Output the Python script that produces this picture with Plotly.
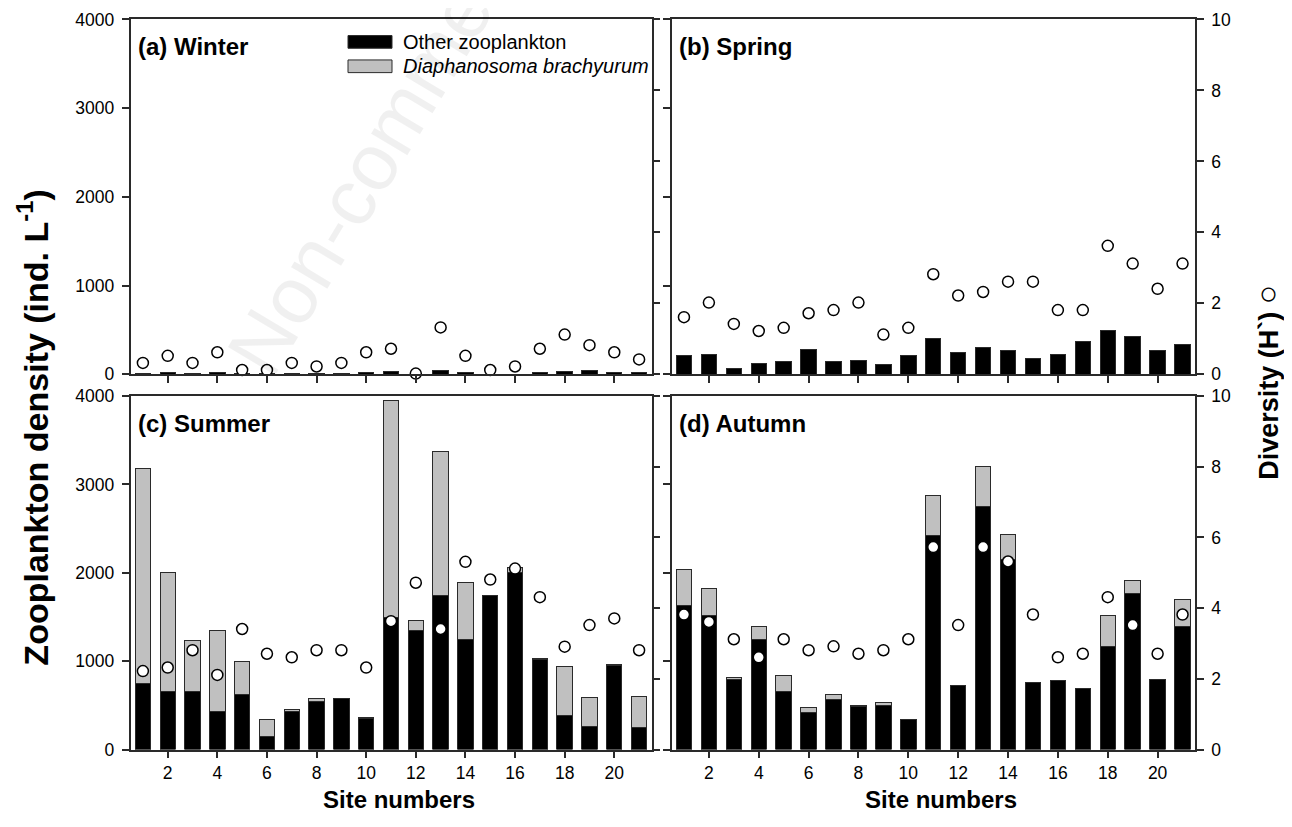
import plotly.graph_objects as go

# ---------------- data ----------------
sites = list(range(1, 22))
x_tick_vals = list(range(2, 21, 2))
density_ticks = [0, 1000, 2000, 3000, 4000]
diversity_ticks = [0, 2, 4, 6, 8, 10]

winter_other = [10, 25, 10, 20, 5, 5, 8, 8, 8, 25, 30, 2, 45, 15, 3, 3, 25, 35, 40, 20, 25]
winter_diaph = [0, 0, 0, 0, 0, 0, 0, 0, 0, 0, 0, 0, 0, 0, 0, 0, 0, 0, 0, 0, 0]
winter_div = [0.32, 0.52, 0.32, 0.62, 0.12, 0.12, 0.32, 0.22, 0.32, 0.62, 0.72,
              0.02, 1.32, 0.52, 0.12, 0.22, 0.72, 1.12, 0.82, 0.62, 0.42]

spring_other = [216, 228, 70, 122, 149, 280, 149, 160, 107, 213, 404,
                250, 307, 273, 179, 220, 374, 491, 423, 265, 333]
spring_diaph = [0, 0, 0, 0, 0, 0, 0, 0, 0, 0, 0, 0, 0, 0, 0, 0, 0, 0, 0, 0, 0]
spring_div = [1.61, 2.02, 1.42, 1.22, 1.31, 1.72, 1.81, 2.02, 1.12, 1.31, 2.82,
              2.22, 2.32, 2.61, 2.61, 1.81, 1.81, 3.62, 3.12, 2.41, 3.12]

summer_other = [747, 653, 653, 427, 619, 150, 427, 548, 578, 352, 1489,
                1350, 1745, 1244, 1745, 2009, 1019, 390, 258, 955, 247]
summer_diaph = [2429, 1347, 584, 919, 381, 187, 30, 30, 0, 11, 2459,
                105, 1623, 644, 0, 49, 11, 545, 327, 7, 350]
summer_div = [2.22, 2.32, 2.81, 2.11, 3.41, 2.71, 2.61, 2.81, 2.81, 2.32, 3.63,
              4.72, 3.41, 5.31, 4.81, 5.12, 4.31, 2.91, 3.52, 3.71, 2.81]

autumn_other = [1625, 1516, 792, 1248, 656, 415, 562, 490, 501, 339, 2424,
                720, 2748, 2153, 758, 777, 694, 1161, 1764, 788, 1387]
autumn_diaph = [407, 301, 22, 143, 185, 64, 60, 10, 27, 0, 456,
                0, 453, 282, 0, 0, 0, 351, 151, 0, 310]
autumn_div = [3.82, 3.61, 3.12, 2.61, 3.12, 2.81, 2.92, 2.71, 2.81, 3.12, 5.73,
              3.52, 5.73, 5.32, 3.82, 2.61, 2.71, 4.31, 3.52, 2.71, 3.82]

panel_labels = ["(a) Winter", "(b) Spring", "(c) Summer", "(d) Autumn"]
legend_labels = ["Other zooplankton", "Diaphanosoma brachyurum"]

# ---------------- layout helpers ----------------
OFF = 8
W, H = 1292 - 2 * OFF, 827 - 2 * OFF
FONT = "Liberation Sans, Arial, Helvetica, sans-serif"
LINE = "#2a2a2a"


def px(x):
    return (x - OFF) / W


def py(y):
    return 1 - (y - OFF) / H


LEFT = (130.5, 651.5)
RIGHT = (671.5, 1195.0)
TOP = (9.5, 373.3)
BOTTOM = (395.7, 758.0)

panels = [
    dict(xd=LEFT, yd=TOP, other=winter_other, diaph=winter_diaph, div=winter_div,
         label=panel_labels[0], xlab=False, llab=True, rlab=False),
    dict(xd=RIGHT, yd=TOP, other=spring_other, diaph=spring_diaph, div=spring_div,
         label=panel_labels[1], xlab=False, llab=False, rlab=True),
    dict(xd=LEFT, yd=BOTTOM, other=summer_other, diaph=summer_diaph, div=summer_div,
         label=panel_labels[2], xlab=True, llab=True, rlab=False),
    dict(xd=RIGHT, yd=BOTTOM, other=autumn_other, diaph=autumn_diaph, div=autumn_div,
         label=panel_labels[3], xlab=True, llab=False, rlab=True),
]

fig = go.Figure()
layout_axes = {}
annotations = []

tickfont = dict(family=FONT, size=17.5, color="black")

for i, p in enumerate(panels, start=1):
    xa, ya, yb = f"x{i}", f"y{i}", f"y{i + 4}"
    fig.add_trace(go.Bar(
        x=sites, y=p["other"], xaxis=xa, yaxis=ya, width=0.62,
        marker=dict(color="black", line=dict(color=LINE, width=1)),
        showlegend=False, name=legend_labels[0]))
    fig.add_trace(go.Bar(
        x=sites, y=[v if v > 0 else None for v in p["diaph"]], xaxis=xa, yaxis=ya,
        width=0.62,
        marker=dict(color="#c0c0c0", line=dict(color=LINE, width=1)),
        showlegend=False, name=legend_labels[1]))
    fig.add_trace(go.Scatter(
        x=sites, y=p["div"], xaxis=xa, yaxis=yb, mode="markers", cliponaxis=False,
        marker=dict(symbol="circle", size=11, color="white",
                    line=dict(color="black", width=1.5)),
        showlegend=False, name="Diversity"))

    common = dict(ticks="outside", ticklen=7, tickwidth=1.5, tickcolor=LINE,
                  showline=True, linecolor=LINE, linewidth=1.5,
                  showgrid=False, zeroline=False, tickfont=tickfont)
    layout_axes[f"xaxis{i}"] = dict(
        domain=[px(p["xd"][0]), px(p["xd"][1])], range=[0.5, 21.5], anchor=ya,
        tickmode="array", tickvals=x_tick_vals, mirror=True,
        showticklabels=p["xlab"], **common)
    layout_axes[f"yaxis{i}"] = dict(
        domain=[py(p["yd"][1]), py(p["yd"][0])], range=[0, 4000], anchor=xa,
        tickmode="array", tickvals=density_ticks, side="left",
        showticklabels=p["llab"], ticklabelstandoff=4, **common)
    layout_axes[f"yaxis{i + 4}"] = dict(
        overlaying=ya, anchor=xa, side="right", range=[0, 10],
        tickmode="array", tickvals=diversity_ticks,
        showticklabels=p["rlab"], ticklabelstandoff=4, **common)

    annotations.append(dict(
        xref="paper", yref="paper", x=px(p["xd"][0] + 5.5), y=py(p["yd"][0] + 28),
        xanchor="left", yanchor="middle", showarrow=False,
        text=f"<b>{p['label']}</b>", font=dict(family=FONT, size=24, color="black")))

# axis titles
for xc in [(LEFT[0] + LEFT[1]) / 2 + 8, (RIGHT[0] + RIGHT[1]) / 2 + 8]:
    annotations.append(dict(
        xref="paper", yref="paper", x=px(xc), y=py(809), xanchor="center",
        yanchor="middle", showarrow=False, text="<b>Site numbers</b>",
        font=dict(family=FONT, size=24, color="black")))

annotations.append(dict(
    xref="paper", yref="paper", x=px(33), y=py(428), xanchor="center",
    yanchor="middle", showarrow=False, textangle=-90,
    text="<b>Zooplankton density (ind. L<sup>-1</sup>)</b>",
    font=dict(family=FONT, size=34, color="black")))

annotations.append(dict(
    xref="paper", yref="paper", x=px(1267), y=py(382), xanchor="center",
    yanchor="middle", showarrow=False, textangle=-90,
    text="<b>Diversity (H`)</b> <span style='font-size:32px'>\u25cb</span>",
    font=dict(family=FONT, size=27, color="black")))

# legend (manual, inside panel a)
shapes = [
    dict(type="rect", xref="paper", yref="paper", x0=px(348), x1=px(392),
         y0=py(39), y1=py(26), fillcolor="black", line=dict(color=LINE, width=1)),
    dict(type="rect", xref="paper", yref="paper", x0=px(348), x1=px(392),
         y0=py(64), y1=py(51), fillcolor="#c0c0c0", line=dict(color=LINE, width=1)),
]
annotations.append(dict(
    xref="paper", yref="paper", x=px(401), y=py(32.5), xanchor="left",
    yanchor="middle", showarrow=False, text=legend_labels[0],
    font=dict(family=FONT, size=20, color="black")))
annotations.append(dict(
    xref="paper", yref="paper", x=px(401), y=py(57.5), xanchor="left",
    yanchor="middle", showarrow=False, text=f"<i>{legend_labels[1]}</i>",
    font=dict(family=FONT, size=20, color="black")))

# faint watermark
annotations.append(dict(
    xref="paper", yref="paper", x=px(398), y=py(110), xanchor="center",
    yanchor="middle", showarrow=False, textangle=-59, text="Non-commercial",
    font=dict(family=FONT, size=80, color="rgba(0,0,0,0.06)")))

fig.update_layout(
    width=W, height=H, autosize=False,
    margin=dict(l=0, r=0, t=0, b=0),
    paper_bgcolor="white", plot_bgcolor="white",
    barmode="stack", bargap=0.38,
    showlegend=False,
    annotations=annotations, shapes=shapes,
    font=dict(family=FONT, color="black"),
    **layout_axes,
)

fig.write_html("out.html")
